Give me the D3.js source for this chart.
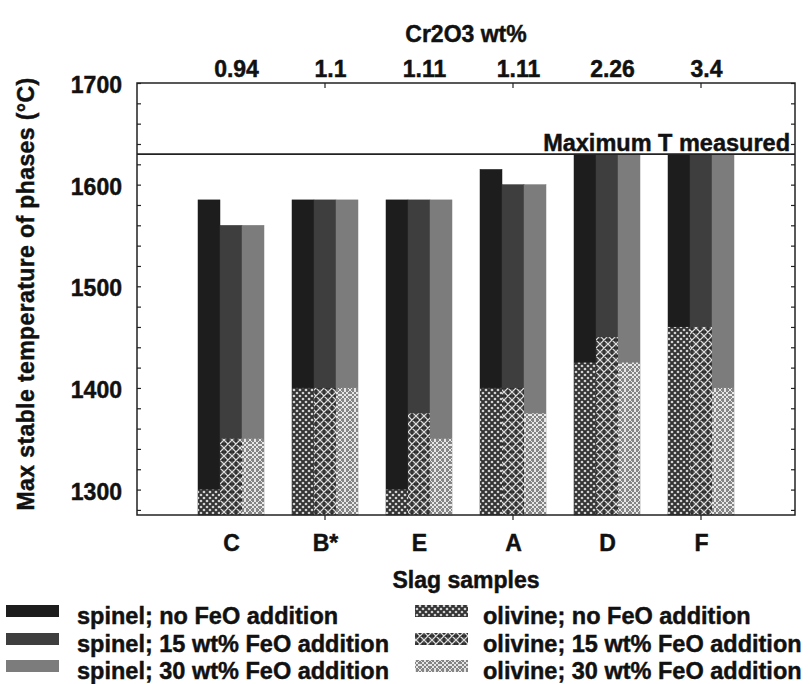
<!DOCTYPE html>
<html>
<head>
<meta charset="utf-8">
<script src="https://cdn.jsdelivr.net/npm/d3@7/dist/d3.min.js"></script>
<style>
  html, body { margin: 0; padding: 0; background: #fff; }
  svg text { font-family: "Liberation Sans", Arial, Helvetica, sans-serif; font-weight: bold; fill: #111;
             stroke: #111; stroke-width: 0.45px; }
</style>
</head>
<body>
<svg id="chart" width="810" height="684"></svg>
<script>
// ---- data ----
const samples = ["C", "B*", "E", "A", "D", "F"];
const cr2o3Labels = ["0.94", "1.1", "1.11", "1.11", "2.26", "3.4"];
const feoLevels = ["no FeO addition", "15 wt% FeO addition", "30 wt% FeO addition"];
const spinelNoFeO = [1585, 1585, 1585, 1615, 1630, 1630];
const spinel15FeO = [1560, 1585, 1585, 1600, 1630, 1630];
const spinel30FeO = [1560, 1585, 1585, 1600, 1630, 1630];
const olivineNoFeO = [1300, 1400, 1300, 1400, 1425, 1460];
const olivine15FeO = [1350, 1400, 1375, 1400, 1450, 1460];
const olivine30FeO = [1350, 1400, 1350, 1375, 1425, 1400];
const maxTMeasured = 1630;
const yTickValues = [1300, 1400, 1500, 1600, 1700];
const tickedSamples = ["B*", "A", "F"];

const spinelSeries = [spinelNoFeO, spinel15FeO, spinel30FeO];
const olivineSeries = [olivineNoFeO, olivine15FeO, olivine30FeO];

// ---- layout ----
const svg = d3.select("#chart");
const L = 137, R = 795, T = 83, B = 515;

const x = d3.scalePoint().domain(samples).range([L, R]).padding(1);
const sub = d3.scaleBand().domain([0, 1, 2]).range([-33, 33]).paddingInner(0);
const y = d3.scaleLinear().domain([1275, 1700]).range([B, T]);

// ---- patterns ----
const defs = svg.append("defs");
const spinelColors = ["#1d1d1d", "#3e3e3e", "#7c7c7c"];

// olivine no FeO: dotted checker
const p0 = defs.append("pattern").attr("id", "oliv0").attr("patternUnits", "userSpaceOnUse")
  .attr("width", 6).attr("height", 6);
p0.append("rect").attr("width", 6).attr("height", 6).attr("fill", "#333");
[[0,0],[6,0],[0,6],[6,6],[3,3]].forEach(([cx, cy]) =>
  p0.append("circle").attr("cx", cx).attr("cy", cy).attr("r", 1.35).attr("fill", "#d0d0d0"));

// olivine 15 wt%: crosshatch on dark grey
const p1 = defs.append("pattern").attr("id", "oliv1").attr("patternUnits", "userSpaceOnUse")
  .attr("width", 8).attr("height", 8);
p1.append("rect").attr("width", 8).attr("height", 8).attr("fill", "#484848");
p1.append("path").attr("d", "M0,0L8,8M0,8L8,0M-1,7L1,9M7,-1L9,1M-1,1L1,-1M7,9L9,7")
  .attr("stroke", "#e0e0e0").attr("stroke-width", 1.2);
[[4,1.2],[4,6.8],[1.2,4],[6.8,4]].forEach(([cx, cy]) =>
  p1.append("circle").attr("cx", cx).attr("cy", cy).attr("r", 0.9).attr("fill", "#222"));

// olivine 30 wt%: double crosshatch on grey
const p2 = defs.append("pattern").attr("id", "oliv2").attr("patternUnits", "userSpaceOnUse")
  .attr("width", 10).attr("height", 10);
p2.append("rect").attr("width", 10).attr("height", 10).attr("fill", "#858585");
p2.append("path").attr("d", "M0,0L10,10M0,10L10,0M-2,2L8,12M2,-2L12,8M-2,8L8,-2M2,12L12,2")
  .attr("stroke", "#f0f0f0").attr("stroke-width", 0.9);
const olivFills = ["url(#oliv0)", "url(#oliv1)", "url(#oliv2)"];

// ---- bars ----
const rows = [];
samples.forEach((s, i) => {
  [0, 1, 2].forEach(k => rows.push({ s, k, spinel: spinelSeries[k][i], olivine: olivineSeries[k][i] }));
});

const gBars = svg.append("g");
gBars.selectAll("rect.spinel").data(rows).join("rect")
  .attr("class", "spinel")
  .attr("x", d => x(d.s) + sub(d.k))
  .attr("width", sub.bandwidth())
  .attr("y", d => y(d.spinel))
  .attr("height", d => y.range()[0] - y(d.spinel))
  .attr("fill", d => spinelColors[d.k])
  .attr("stroke", d => spinelColors[d.k]).attr("stroke-width", 0.5);

gBars.selectAll("rect.olivine").data(rows).join("rect")
  .attr("class", "olivine")
  .attr("x", d => x(d.s) + sub(d.k))
  .attr("width", sub.bandwidth())
  .attr("y", d => y(d.olivine))
  .attr("height", d => y.range()[0] - y(d.olivine))
  .attr("fill", d => olivFills[d.k]);

// ---- frame & axes ----
const axisColor = "#222";
const minorTicks = d3.range(1280, 1701, 20);

const yLeft = d3.axisRight(y).tickValues(minorTicks).tickSize(4).tickFormat("");
svg.append("g").attr("transform", `translate(${L},0)`).call(yLeft)
  .call(g => g.select(".domain").remove())
  .call(g => g.selectAll("line").attr("stroke", axisColor).attr("stroke-width", 1.2));

const yRight = d3.axisLeft(y).tickValues(minorTicks).tickSize(4).tickFormat("");
svg.append("g").attr("transform", `translate(${R},0)`).call(yRight)
  .call(g => g.select(".domain").remove())
  .call(g => g.selectAll("line").attr("stroke", axisColor).attr("stroke-width", 1.2));

// y labels
const yLab = d3.axisLeft(y).tickValues(yTickValues).tickSize(0).tickPadding(15).tickFormat(d3.format("d"));
svg.append("g").attr("transform", `translate(${L},0)`).call(yLab)
  .call(g => g.select(".domain").remove())
  .call(g => g.selectAll("text").attr("font-size", 23).attr("font-family", null).attr("fill", "#111")
    .attr("dy", "0.42em"));

// bottom axis: labels and outward ticks
const xBottom = d3.axisBottom(x).tickSize(0).tickPadding(20);
svg.append("g").attr("transform", `translate(0,${B})`).call(xBottom)
  .call(g => g.select(".domain").remove())
  .call(g => g.selectAll("text").attr("font-size", 23).attr("font-family", null).attr("fill", "#111").attr("dy", "0.71em"));
svg.append("g").selectAll("line").data(tickedSamples).join("line")
  .attr("x1", d => x(d)).attr("x2", d => x(d)).attr("y1", B).attr("y2", B + 5)
  .attr("stroke", axisColor).attr("stroke-width", 1.2);

// top axis: Cr2O3 labels and inward ticks
const xTop = d3.axisTop(x).tickSize(0).tickPadding(6).tickFormat((d, i) => cr2o3Labels[i]);
svg.append("g").attr("transform", `translate(0,${T})`).call(xTop)
  .call(g => g.select(".domain").remove())
  .call(g => g.selectAll("text").attr("font-size", 23).attr("font-family", null).attr("fill", "#111").attr("dx", 5));
svg.append("g").selectAll("line").data(tickedSamples).join("line")
  .attr("x1", d => x(d)).attr("x2", d => x(d)).attr("y1", T).attr("y2", T + 5)
  .attr("stroke", axisColor).attr("stroke-width", 1.2);

// frame
svg.append("rect").attr("x", L).attr("y", T).attr("width", R - L).attr("height", B - T)
  .attr("fill", "none").attr("stroke", axisColor).attr("stroke-width", 1.5);

// max T line
svg.append("line").attr("x1", L).attr("x2", R).attr("y1", y(maxTMeasured)).attr("y2", y(maxTMeasured))
  .attr("stroke", axisColor).attr("stroke-width", 1.6);
svg.append("text").attr("x", 790).attr("y", y(maxTMeasured) - 3).attr("text-anchor", "end")
  .attr("font-size", 23.5).text("Maximum T measured");

// titles
svg.append("text").attr("x", (L + R) / 2).attr("y", 42).attr("text-anchor", "middle")
  .attr("font-size", 23).text("Cr2O3 wt%");
svg.append("text").attr("x", (L + R) / 2).attr("y", 588).attr("text-anchor", "middle")
  .attr("font-size", 23).text("Slag samples");
svg.append("text").attr("transform", "translate(34,294) rotate(-90)").attr("text-anchor", "middle")
  .attr("font-size", 23).attr("letter-spacing", 0.4).text("Max stable temperature of phases (°C)");

// ---- legend ----
const legY = [624, 652, 679];
const lg = svg.append("g");
feoLevels.forEach((lvl, k) => {
  lg.append("rect").attr("x", 6).attr("y", legY[k] - 19).attr("width", 53).attr("height", 12)
    .attr("fill", spinelColors[k]);
  lg.append("text").attr("x", 77).attr("y", legY[k]).attr("font-size", 23.5).text("spinel; " + lvl);
  lg.append("rect").attr("x", 415).attr("y", legY[k] - 19).attr("width", 53).attr("height", 12)
    .attr("fill", olivFills[k]);
  lg.append("text").attr("x", 483).attr("y", legY[k]).attr("font-size", 23.5).text("olivine; " + lvl);
});
</script>
</body>
</html>
